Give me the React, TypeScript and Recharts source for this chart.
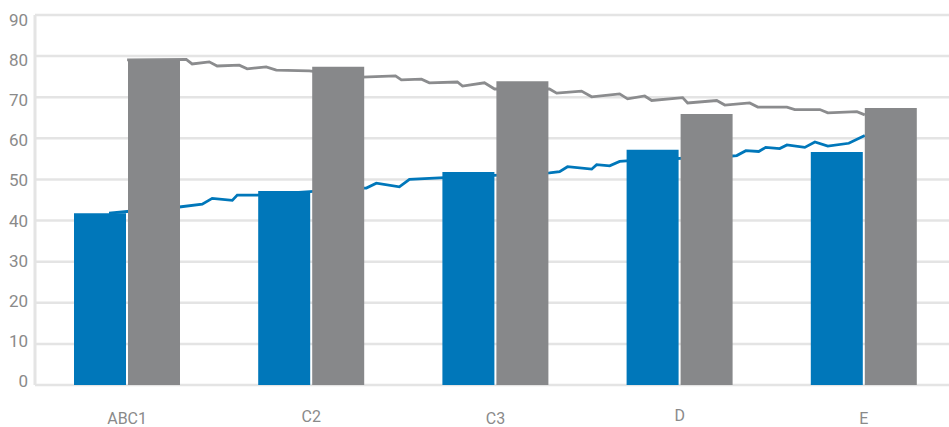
import {
  ComposedChart,
  Bar,
  Line,
  XAxis,
  YAxis,
  CartesianGrid,
} from "recharts"

const categories = ["ABC1", "C2", "C3", "D", "E"]
const blueBars = [41.8, 47.2, 51.8, 57.2, 56.7]
const grayBars = [79.1, 77.4, 73.9, 65.9, 67.4]
const yTicks = [0, 10, 20, 30, 40, 50, 60, 70, 80, 90]

// line positions in category units (0..5, category i centred at i + 0.5)
const blueLineX = [
  0.402, 0.5, 0.783, 0.908, 0.962, 1.071, 1.098, 1.207, 1.777, 1.799, 1.853,
  1.978, 2.033, 2.196, 2.793, 2.848, 2.891, 3.022, 3.049, 3.12, 3.174, 3.212,
  3.783, 3.81, 3.859, 3.929, 3.967, 4.043, 4.082, 4.179, 4.234, 4.304, 4.418,
  4.505,
]
const blueLineY = [
  41.8, 42.2, 43.3, 44.0, 45.4, 44.9, 46.2, 46.2, 47.9, 47.9, 49.1, 48.2, 50.0,
  50.4, 51.6, 51.9, 53.1, 52.5, 53.6, 53.3, 54.4, 54.5, 55.7, 55.8, 57.0, 56.8,
  57.8, 57.5, 58.4, 57.8, 59.1, 58.1, 58.8, 60.7,
]
const grayLineX = [
  0.5, 0.821, 0.853, 0.946, 0.989, 1.109, 1.152, 1.255, 1.31, 1.489, 1.777,
  1.957, 1.989, 2.098, 2.141, 2.293, 2.321, 2.44, 2.495, 2.793, 2.832, 2.967,
  3.022, 3.174, 3.217, 3.31, 3.348, 3.516, 3.543, 3.701, 3.745, 3.88, 3.924,
  4.082, 4.125, 4.261, 4.304, 4.462, 4.505,
]
const grayLineY = [
  79.1, 79.2, 78.1, 78.6, 77.6, 77.8, 76.9, 77.4, 76.6, 76.4, 74.9, 75.2, 74.2,
  74.4, 73.5, 73.7, 72.7, 73.5, 72.0, 72.0, 71.0, 71.5, 70.1, 70.8, 69.6, 70.3,
  69.2, 69.9, 68.6, 69.2, 68.1, 68.6, 67.6, 67.6, 67.0, 67.0, 66.2, 66.5, 65.7,
]

const barData = categories.map((name, i) => ({
  name,
  blue: blueBars[i],
  gray: grayBars[i],
}))
const blueLine = blueLineX.map((x, i) => ({ x, v: blueLineY[i] }))
const grayLine = grayLineX.map((x, i) => ({ x, v: grayLineY[i] }))

const BLUE = "#0077ba"
const GRAY = "#87888a"
const LABEL = "#8a8a8a"
const FONT = "Roboto, sans-serif"

const xShift = [0, -2, 0, -3, 0]

function YTick({ x, y, payload }: any) {
  return (
    <text
      x={x}
      y={y + 6 + (payload.value - 40) * 0.1}
      textAnchor="end"
      fill={LABEL}
      fontSize={17}
      fontFamily={FONT}
    >
      {payload.value}
    </text>
  )
}

function XTick({ x, y, payload, index }: any) {
  return (
    <text
      x={x}
      y={y + 37 + (xShift[index] || 0)}
      textAnchor="middle"
      fill={LABEL}
      fontSize={16}
      fontFamily={FONT}
    >
      {payload.value}
    </text>
  )
}

export default function App() {
  return (
    <div
      style={{
        position: "absolute",
        left: 0,
        top: 0,
        width: 949,
        height: 427,
        overflow: "hidden",
        background: "#fff",
      }}
    >
      <ComposedChart
        width={960}
        height={427}
        data={barData}
        margin={{ top: 15, right: 4, bottom: 0, left: 0 }}
        barGap={2}
      >
        <CartesianGrid
          vertical={false}
          stroke="#e4e4e4"
          strokeWidth={2.5}
        />
        <XAxis
          dataKey="name"
          height={42}
          tickLine={false}
          tickSize={0}
          axisLine={false}
          tick={<XTick />}
          interval={0}
        />
        <XAxis
          xAxisId="num"
          dataKey="x"
          type="number"
          domain={[0, 5]}
          allowDataOverflow
          hide
        />
        <YAxis
          width={35}
          domain={[0, 90]}
          ticks={yTicks}
          tickLine={false}
          tickSize={0}
          tickMargin={7}
          axisLine={{ stroke: "#e4e4e4", strokeWidth: 3 }}
          tick={<YTick />}
          interval={0}
        />
        <Line
          xAxisId="num"
          data={grayLine}
          dataKey="v"
          type="linear"
          stroke="#8b8c8e"
          strokeWidth={2.8}
          dot={false}
          isAnimationActive={false}
          zIndex={250}
        />
        <Line
          xAxisId="num"
          data={blueLine}
          dataKey="v"
          type="linear"
          stroke={BLUE}
          strokeWidth={2.8}
          dot={false}
          isAnimationActive={false}
          zIndex={250}
        />
        <Bar dataKey="blue" fill={BLUE} barSize={52} isAnimationActive={false} />
        <Bar dataKey="gray" fill={GRAY} barSize={52} isAnimationActive={false} />
      </ComposedChart>
    </div>
  )
}
